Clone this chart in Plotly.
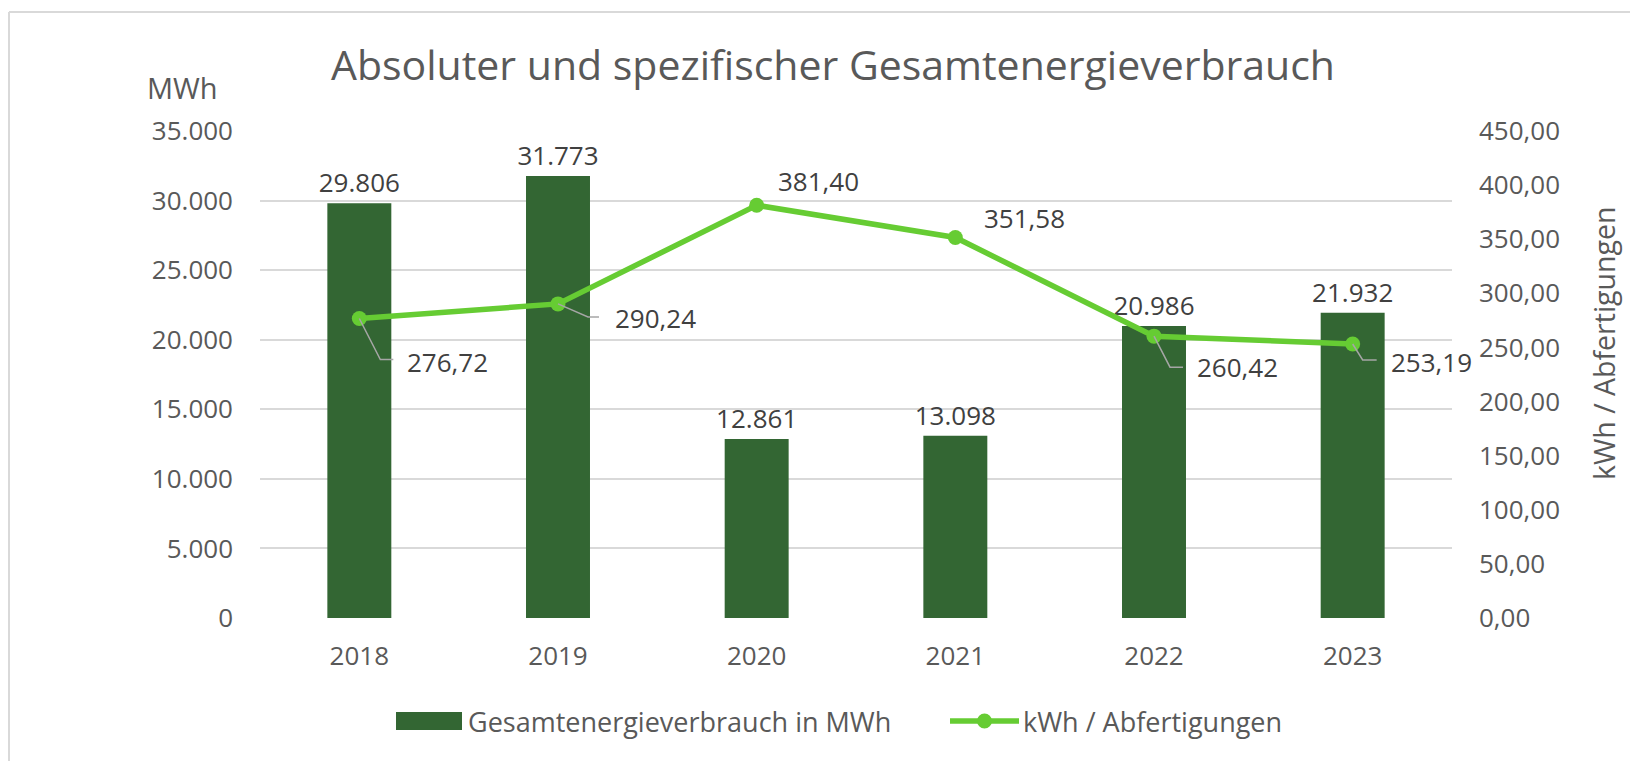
import plotly.graph_objects as go

years = ["2018", "2019", "2020", "2021", "2022", "2023"]
energy_mwh = [29806, 31773, 12861, 13098, 20986, 21932]
kwh_per_unit = [276.72, 290.24, 381.40, 351.58, 260.42, 253.19]
left_ticks = [0, 5000, 10000, 15000, 20000, 25000, 30000, 35000]
right_ticks = [0, 50, 100, 150, 200, 250, 300, 350, 400, 450]

W, H = 1638, 761
OFF = 8  # page body margin
PL, PR, PT, PB = 260, 1452, 131, 618
FONT = "Open Sans"
BAR_C = "#336633"
LINE_C = "#66CC33"
TXT = "#595959"
LAB = "#404040"

def px(x):
    return (x - PL) / (PR - PL)

def py(y):
    return (PB - y) / (PB - PT)

idx = list(range(len(years)))

fig = go.Figure()
fig.add_trace(go.Bar(
    x=idx, y=energy_mwh, name="Gesamtenergieverbrauch in MWh",
    marker=dict(color=BAR_C, line=dict(width=0)), width=0.322,
    texttemplate="%{y:,.0f}", textposition="outside", constraintext="none",
    textfont=dict(family=FONT, size=26, color=LAB), cliponaxis=False,
    showlegend=False,
))
fig.add_trace(go.Scatter(
    x=idx, y=kwh_per_unit, yaxis="y2", mode="lines+markers",
    name="kWh / Abfertigungen",
    line=dict(color=LINE_C, width=5.5), marker=dict(color=LINE_C, size=15),
    showlegend=False, cliponaxis=False,
))

# data labels of the line (offsets in pixels) with leader lines
label_offsets = [(46, -43, True, (21, 41, 34)), (55, -14, True, (30, 13, 41)),
                 (19, 24, False, None), (27, 20, False, None),
                 (41, -31, True, (16, 31, 29)), (36, -18, True, (10, 16, 24))]
annotations = []
shapes = []
for i, (v, (dx, dy, lead, lp)) in enumerate(zip(kwh_per_unit, label_offsets)):
    annotations.append(dict(
        x=i, y=v, xref="x", yref="y2", xshift=dx, yshift=dy,
        text=f"{v:.2f}".replace(".", ","), showarrow=False,
        xanchor="left", yanchor="middle",
        font=dict(family=FONT, size=26, color=LAB)))
    if lead:
        a, b, c = lp
        shapes.append(dict(
            type="path", xref="x", yref="y2", xsizemode="pixel", ysizemode="pixel",
            xanchor=i, yanchor=v,
            path=f"M0,0 L{a},{-b} L{c},{-b}",
            line=dict(color="#A6A6A6", width=1.5), layer="above"))

# title, axis titles
annotations.append(dict(
    x=px(833), y=py(64), xref="paper", yref="paper",
    text="Absoluter und spezifischer Gesamtenergieverbrauch", showarrow=False,
    xanchor="center", yanchor="middle", font=dict(family=FONT, size=41, color=TXT)))
annotations.append(dict(
    x=px(145), y=py(88), xref="paper", yref="paper", text="MWh", showarrow=False,
    xanchor="left", yanchor="middle", font=dict(family=FONT, size=29, color=TXT)))
annotations.append(dict(
    x=px(1604), y=py(344), xref="paper", yref="paper", text="kWh / Abfertigungen",
    showarrow=False, textangle=-90, xanchor="center", yanchor="middle",
    font=dict(family=FONT, size=28.5, color=TXT)))

# legend (drawn)
ly = 721
shapes.append(dict(type="rect", xref="paper", yref="paper",
                   x0=px(396), x1=px(462), y0=py(730), y1=py(712),
                   fillcolor=BAR_C, line=dict(width=0)))
annotations.append(dict(
    x=px(466), y=py(ly), xref="paper", yref="paper",
    text="Gesamtenergieverbrauch in MWh", showarrow=False,
    xanchor="left", yanchor="middle", font=dict(family=FONT, size=27, color=TXT)))
shapes.append(dict(type="line", xref="paper", yref="paper",
                   x0=px(950), x1=px(1019), y0=py(ly), y1=py(ly),
                   line=dict(color=LINE_C, width=5.5)))
shapes.append(dict(type="circle", xref="paper", yref="paper",
                   x0=px(977), x1=px(992), y0=py(ly + 7.5), y1=py(ly - 7.5),
                   fillcolor=LINE_C, line=dict(width=0)))
annotations.append(dict(
    x=px(1021), y=py(ly), xref="paper", yref="paper",
    text="kWh / Abfertigungen", showarrow=False,
    xanchor="left", yanchor="middle", font=dict(family=FONT, size=27, color=TXT)))

# chart area border (top and left)
shapes.append(dict(type="line", xref="paper", yref="paper",
                   x0=px(9), x1=px(W + 20), y0=py(12), y1=py(12),
                   line=dict(color="#D9D9D9", width=2)))
shapes.append(dict(type="line", xref="paper", yref="paper",
                   x0=px(9), x1=px(9), y0=py(12), y1=py(H + 20),
                   line=dict(color="#D9D9D9", width=2)))

fig.update_layout(
    width=W, height=H,
    margin=dict(l=PL - OFF, r=W - PR + OFF, t=PT - OFF, b=H - PB + OFF, pad=0),
    paper_bgcolor="white", plot_bgcolor="white",
    separators=",.",
    font=dict(family=FONT, size=26, color=TXT),
    xaxis=dict(range=[-0.5, 5.5], tickvals=idx, ticktext=years, showgrid=False,
               zeroline=False, showline=False, ticks="", ticklabelstandoff=20,
               tickfont=dict(family=FONT, size=26, color=TXT), fixedrange=True),
    yaxis=dict(range=[0, 35000], tickvals=left_ticks, tickformat=",.0f",
               showgrid=True, gridcolor="#D9D9D9", gridwidth=1.5, zeroline=False,
               showline=False, ticks="", ticklabelstandoff=26,
               tickfont=dict(family=FONT, size=26, color=TXT)),
    yaxis2=dict(range=[0, 450], tickvals=right_ticks, tickformat=".2f",
                overlaying="y", side="right", showgrid=False, zeroline=False,
                showline=False, ticks="", ticklabelstandoff=26,
                tickfont=dict(family=FONT, size=26, color=TXT)),
    bargap=0.678,
    annotations=annotations, shapes=shapes,
    showlegend=False,
)

fig.write_html("out.html")
